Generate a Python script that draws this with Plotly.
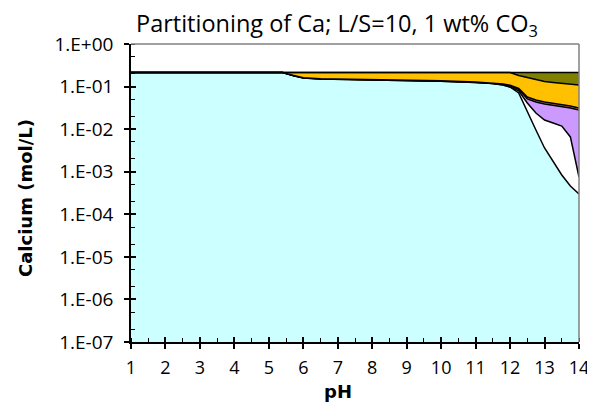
import plotly.graph_objects as go

ph = [1, 2, 3, 4, 5, 5.4, 5.7, 6, 6.5, 7, 8, 9, 10, 11, 11.5, 11.8, 12,
      12.25, 12.5, 12.75, 13, 13.25, 13.5, 13.75, 14]

# species concentrations (mol/L), bottom to top of the stack
ca_cyan = [0.214, 0.214, 0.214, 0.214, 0.214, 0.214, 0.182, 0.159, 0.1507, 0.148,
           0.1458, 0.1404, 0.1337, 0.1247, 0.118, 0.1089, 0.0977,
           0.0706, 0.0253, 0.00955, 0.00361, 0.00179, 0.000837, 0.000461, 0.000299]
ca_white = [0, 0, 0, 0, 0, 0, 0, 0, 0, 0, 0, 0, 0, 0, 0, 0, 0,
            0.0084, 0.0158, 0.0144, 0.0128, 0.0121, 0.0110, 0.0061, 0.00045]
ca_purple = [0, 0, 0, 0, 0, 0, 0.0008, 0.0015, 0.0015, 0.0015, 0.0015, 0.0015, 0.0015,
             0.0015, 0.0015, 0.004, 0.007,
             0.007, 0.010, 0.0195, 0.0226, 0.0224, 0.0222, 0.0249, 0.0274]
ca_red = [0, 0, 0, 0, 0, 0, 0.001, 0.001, 0.001, 0.001, 0.001, 0.001, 0.001,
          0.001, 0.001, 0.002, 0.003,
          0.005, 0.0058, 0.005, 0.0044, 0.0042, 0.0039, 0.0036, 0.0032]
ca_orange = [0, 0, 0, 0, 0, 0, 0.0302, 0.0525, 0.0608, 0.0635, 0.0657, 0.0711, 0.0778,
             0.0868, 0.0935, 0.0991, 0.1063,
             0.091, 0.1061, 0.0956, 0.0881, 0.084, 0.0801, 0.078, 0.0776]
ca_olive = [0, 0, 0, 0, 0, 0, 0, 0, 0, 0, 0, 0, 0, 0, 0, 0, 0,
            0.032, 0.051, 0.070, 0.0825, 0.0895, 0.096, 0.101, 0.105]

series = [
    ("s1", ca_cyan, "#CCFFFF"),
    ("s2", ca_white, "#FFFFFF"),
    ("s3", ca_purple, "#CC99FF"),
    ("s4", ca_red, "#CC6666"),
    ("s5", ca_orange, "#FFC000"),
    ("s6", ca_olive, "#808000"),
]

y_tickvals = [1e-7, 1e-6, 1e-5, 1e-4, 1e-3, 1e-2, 1e-1, 1]
y_ticktext = ["1.E-07", "1.E-06", "1.E-05", "1.E-04", "1.E-03", "1.E-02", "1.E-01", "1.E+00"]
x_tickvals = list(range(1, 15))

fig = go.Figure()
for name, vals, col in series:
    fig.add_trace(go.Scatter(
        x=ph, y=vals, name=name, mode="lines", stackgroup="ca",
        fillcolor=col, line=dict(color="black", width=1.5),
        showlegend=False, hoverinfo="skip"))

tick_font = "Open Sans"
title_font = "DejaVu Sans"
fig.update_layout(
    width=587, height=397,
    margin=dict(l=123, r=16, t=36, b=63, autoexpand=False),
    paper_bgcolor="white", plot_bgcolor="white",
    font=dict(family=tick_font, size=18, color="black"),
    xaxis=dict(range=[1, 14], tickvals=x_tickvals, ticks="outside", ticklen=5,
               tickwidth=1.5, tickcolor="black", showgrid=False, zeroline=False,
               showline=True, linecolor="black", linewidth=1.5, ticklabelstandoff=4,
               automargin=False, ticklabeloverflow="allow",
               minor=dict(ticks="inside", dtick=0.5, ticklen=4, tickwidth=1.2,
                          tickcolor="black", showgrid=False),
               tickfont=dict(family=tick_font, size=18)),
    yaxis=dict(type="log", range=[-7, 0], tickvals=y_tickvals, ticktext=y_ticktext,
               ticks="outside", ticklen=5, tickwidth=1.5, tickcolor="black",
               showgrid=False, zeroline=False, showline=True, linecolor="black",
               linewidth=1.5, ticklabelstandoff=7, automargin=False,
               ticklabeloverflow="allow",
               minor=dict(ticks="inside", ticklen=4, tickwidth=1, tickcolor="black",
                          showgrid=False),
               tickfont=dict(family=tick_font, size=19)),
    xaxis2=dict(range=[1, 14], overlaying="x", tickvals=x_tickvals, ticks="inside",
                ticklen=5, tickwidth=1.5, tickcolor="black", showticklabels=False,
                showgrid=False, zeroline=False, side="bottom", automargin=False),
    yaxis2=dict(type="log", range=[-7, 0], overlaying="y", tickvals=y_tickvals,
                ticks="inside", ticklen=5, tickwidth=1.5, tickcolor="black",
                showticklabels=False, showgrid=False, zeroline=False, side="left",
                automargin=False),
    annotations=[
        dict(text="Partitioning of Ca; L/S=10, 1 wt% CO<sub>3</sub>", xref="paper",
             yref="paper", x=0, y=1, xshift=206, yshift=20, showarrow=False,
             xanchor="center", yanchor="middle",
             font=dict(family=tick_font, size=23.5, color="black")),
        dict(text="<b>Calcium (mol/L)</b>", xref="paper", yref="paper", x=0, y=0.5,
             xshift=-106, yshift=-5, textangle=-90, showarrow=False, xanchor="center",
             yanchor="middle", font=dict(family=title_font, size=18, color="black")),
        dict(text="<b>pH</b>", xref="paper", yref="paper", x=0, y=0, xshift=207,
             yshift=-49, showarrow=False, xanchor="center", yanchor="middle",
             font=dict(family=title_font, size=18, color="black")),
    ],
    shapes=[
        dict(type="line", xref="paper", yref="paper", x0=0, x1=1, y0=1, y1=1,
             line=dict(color="#808080", width=1.5)),
        dict(type="line", xref="paper", yref="paper", x0=1, x1=1, y0=0, y1=1,
             line=dict(color="#808080", width=1.5)),
    ],
)
# invisible trace to activate the secondary tick axes
fig.add_trace(go.Scatter(x=[1], y=[1e-7], xaxis="x2", yaxis="y2", mode="markers",
                         marker=dict(opacity=0), showlegend=False, hoverinfo="skip"))

fig.write_html("out.html")
